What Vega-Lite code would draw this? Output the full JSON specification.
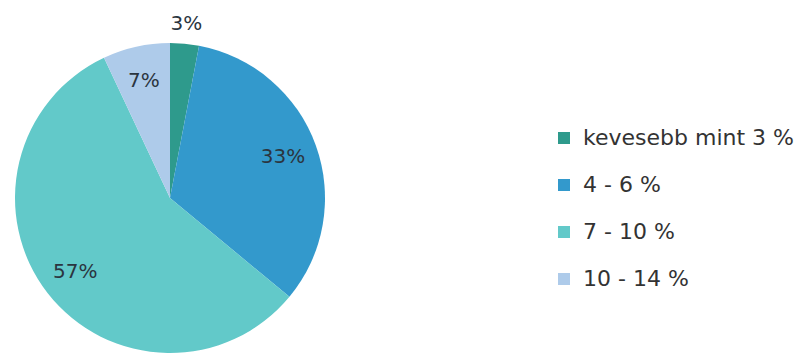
{
  "$schema": "https://vega.github.io/schema/vega-lite/v6.json",
  "autosize": {"type": "none"},
  "width": 340,
  "height": 310,
  "padding": {"left": 0, "top": 43, "right": 456, "bottom": 1},
  "background": "white",
  "config": {"view": {"stroke": null}},
  "data": {
    "values": [
      {"category": "kevesebb mint 3 %", "pct": 3, "ord": 1, "label": "3%"},
      {"category": "4 - 6 %", "pct": 33, "ord": 2, "label": "33%"},
      {"category": "7 - 10 %", "pct": 57, "ord": 3, "label": "57%"},
      {"category": "10 - 14 %", "pct": 7, "ord": 4, "label": "7%"}
    ]
  },
  "encoding": {
    "theta": {"field": "pct", "type": "quantitative", "stack": true},
    "order": {"field": "ord", "type": "quantitative"}
  },
  "layer": [
    {
      "mark": {"type": "arc", "outerRadius": 155},
      "encoding": {
        "color": {
          "field": "category",
          "type": "nominal",
          "sort": ["kevesebb mint 3 %", "4 - 6 %", "7 - 10 %", "10 - 14 %"],
          "scale": {
            "domain": ["kevesebb mint 3 %", "4 - 6 %", "7 - 10 %", "10 - 14 %"],
            "range": ["#2e9a8c", "#3399cc", "#62c9c9", "#aecbea"]
          },
          "legend": {
            "title": null,
            "orient": "none",
            "legendX": 553,
            "legendY": 84,
            "padding": 0,
            "symbolType": "square",
            "symbolSize": 144,
            "symbolStrokeWidth": 0,
            "labelFont": "DejaVu Sans",
            "labelFontSize": 22,
            "labelColor": "#333333",
            "labelOffset": 8,
            "labelLimit": 400,
            "rowPadding": 25
          }
        }
      }
    },
    {
      "mark": {"type": "text", "radius": 120, "font": "DejaVu Sans", "fontSize": 20, "fill": "#2b3540"},
      "encoding": {
        "text": {"condition": {"test": "datum.pct != 3", "field": "label"}, "value": ""}
      }
    },
    {
      "mark": {"type": "text", "radius": 175, "font": "DejaVu Sans", "fontSize": 20, "fill": "#2b3540"},
      "encoding": {
        "text": {"condition": {"test": "datum.pct == 3", "field": "label"}, "value": ""}
      }
    }
  ]
}
